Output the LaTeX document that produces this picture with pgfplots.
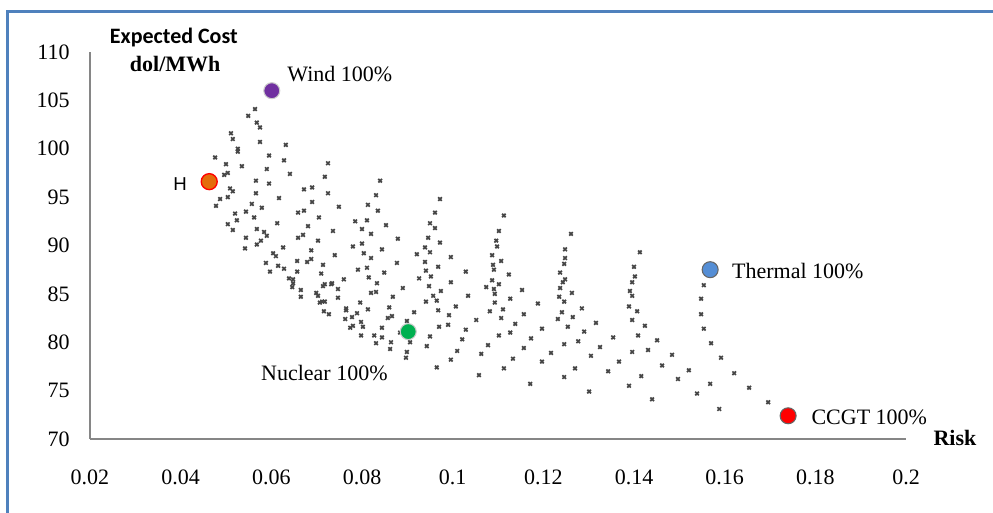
\documentclass[border=0pt]{standalone}
\usepackage{pgfplots}
\pgfplotsset{compat=1.18}
\usepackage{fontspec}
\setmainfont{Liberation Serif}
\newfontfamily\carlito{Carlito}
\newfontfamily\arialf{Liberation Sans}
\definecolor{framblue}{RGB}{79,129,189}
\definecolor{ptgray}{RGB}{70,70,70}
\definecolor{axgray}{RGB}{134,134,134}
\definecolor{windc}{RGB}{112,48,160}
\definecolor{hc}{RGB}{228,108,10}
\definecolor{nucc}{RGB}{0,176,80}
\definecolor{thc}{RGB}{85,142,213}
\definecolor{ccc}{RGB}{255,0,0}
\begin{document}
\begin{tikzpicture}
\useasboundingbox (-67.5pt,-55.5pt) rectangle (677.25pt,329.25pt);
\draw[framblue, line width=2.25pt] (-61.5pt,-60pt) -- (-61.5pt,320.25pt) -- (680pt,320.25pt);
\begin{axis}[
  scale only axis,
  width=612pt, height=290.25pt,
  xmin=0.02, xmax=0.2, ymin=70, ymax=110,
  axis lines=left,
  axis line style={-, axgray, line width=1.2pt},
  tick style={draw=none},
  xtick={0.02,0.04,0.06,0.08,0.1,0.12,0.14,0.16,0.18,0.2},
  ytick={70,75,80,85,90,95,100,105,110},
  scaled x ticks=false,
  /pgf/number format/assume math mode=true,
  xticklabel style={/pgf/number format/fixed, /pgf/number format/precision=2, inner sep=0pt, yshift=-21pt, font=\fontsize{16.5}{18}\selectfont},
  yticklabel style={inner sep=0pt, xshift=-13pt, font=\fontsize{16.5}{18}\selectfont},
  clip=false,
]
\addplot[only marks, mark=x, mark size=1.9pt, ptgray, line width=1.3pt] coordinates {
(0.0564,104.1) (0.0549,103.4) (0.0568,102.7) (0.0575,102.2) (0.0511,101.6) (0.0515,101.0)
(0.0575,100.7) (0.0632,100.4) (0.0526,100.0) (0.0526,99.7) (0.0476,99.1) (0.0595,99.3)
(0.0628,98.8) (0.0500,98.4) (0.0535,98.2) (0.0725,98.5) (0.0590,97.9) (0.0504,97.5)
(0.0496,97.3) (0.0641,97.4) (0.0566,96.7) (0.0595,96.4) (0.0718,97.1) (0.0840,96.7)
(0.0509,95.9) (0.0515,95.6) (0.0690,96.0) (0.0672,95.8) (0.0566,95.4) (0.0504,95.0)
(0.0725,95.4) (0.0487,94.8) (0.0478,94.1) (0.0617,94.9) (0.0831,95.2) (0.0690,94.5)
(0.0557,94.3) (0.0544,93.5) (0.0579,93.9) (0.0813,94.2) (0.0835,93.6) (0.0749,94.0)
(0.0659,93.4) (0.0672,93.6) (0.0520,93.3) (0.0524,92.6) (0.0562,92.9) (0.0705,92.9)
(0.0613,92.3) (0.0785,92.5) (0.0811,92.6) (0.0504,92.2) (0.0515,91.6) (0.0853,92.1)
(0.0568,91.7) (0.0584,91.4) (0.0590,91.0) (0.0681,92.0) (0.0736,91.5) (0.0800,91.7)
(0.0820,91.2) (0.0659,90.8) (0.0670,91.1) (0.0544,90.8) (0.0703,90.5) (0.0879,90.7)
(0.0568,90.1) (0.0542,89.7) (0.0577,90.5) (0.0626,89.8) (0.0780,89.9) (0.0800,90.2)
(0.0804,89.2) (0.0844,89.6) (0.0604,89.2) (0.0610,88.9) (0.0688,89.5) (0.0740,89.0)
(0.0588,88.2) (0.0597,87.3) (0.0615,87.9) (0.0628,87.6) (0.0657,88.4) (0.0657,87.3)
(0.0679,88.3) (0.0688,88.6) (0.0714,88.0) (0.0820,88.7) (0.0791,87.5) (0.0811,87.7)
(0.0849,87.2) (0.0877,88.2) (0.0710,87.1) (0.0639,86.6) (0.0648,86.5) (0.0648,86.1)
(0.0646,85.7) (0.0665,85.4) (0.0665,84.7) (0.0699,85.1) (0.0703,84.8) (0.0707,84.1)
(0.0712,84.2) (0.0718,84.2) (0.0714,85.8) (0.0718,86.0) (0.0732,86.0) (0.0734,86.1)
(0.0747,85.5) (0.0747,84.6) (0.0760,86.5) (0.0815,86.7) (0.0833,86.1) (0.0820,85.1)
(0.0831,85.2) (0.0796,84.1) (0.0813,83.4) (0.0860,83.6) (0.0857,82.5) (0.0866,82.7)
(0.0868,84.7) (0.0716,83.2) (0.0727,82.9) (0.0765,83.5) (0.0765,83.3) (0.0763,82.4)
(0.0778,82.6) (0.0789,83.0) (0.0774,81.5) (0.0780,81.7) (0.0798,82.1) (0.0802,81.6)
(0.0798,80.7) (0.0827,80.7) (0.0831,79.9) (0.0844,81.5) (0.0844,80.5) (0.0864,80.0)
(0.0862,79.3) (0.0884,81.0) (0.0972,94.8) (0.0961,93.4) (0.0950,92.3) (0.0961,91.8)
(0.0946,90.8) (0.0939,89.8) (0.0950,89.3) (0.0972,90.3) (0.0921,89.1) (0.0996,88.8)
(0.0939,88.3) (0.0968,87.8) (0.0952,86.8) (0.0941,87.4) (0.0926,86.6) (0.0996,86.2)
(0.0948,85.8) (0.0890,85.6) (0.0974,85.3) (0.0957,84.8) (0.0965,84.3) (0.0941,84.2)
(0.0968,83.3) (0.0992,82.8) (0.0970,81.6) (0.0990,81.8) (0.0915,83.1) (0.1007,83.7)
(0.0899,82.2) (0.0906,80.0) (0.0899,79.0) (0.0897,78.4) (0.0950,80.6) (0.0943,79.6)
(0.1029,81.3) (0.0965,77.4) (0.0996,78.2) (0.1010,79.1) (0.1021,80.3) (0.1029,87.3)
(0.1034,84.8) (0.1052,82.3) (0.1063,78.8) (0.1078,79.7) (0.1058,76.6) (0.1113,93.1)
(0.1102,91.5) (0.1096,90.5) (0.1098,89.9) (0.1087,89.0) (0.1107,88.4) (0.1089,88.0)
(0.1091,87.5) (0.1087,86.4) (0.1102,86.0) (0.1074,85.7) (0.1091,85.5) (0.1093,85.0)
(0.1124,87.0) (0.1093,84.1) (0.1082,83.2) (0.1111,83.4) (0.1107,82.5) (0.1127,84.5)
(0.1153,85.4) (0.1157,82.9) (0.1138,81.9) (0.1127,81.0) (0.1102,80.7) (0.1173,80.4)
(0.1157,79.4) (0.1133,78.3) (0.1113,77.3) (0.1197,81.4) (0.1188,84.0) (0.1197,78.0)
(0.1171,75.7) (0.1217,78.9) (0.1261,91.2) (0.1248,89.6) (0.1248,88.7) (0.1246,88.1)
(0.1237,87.2) (0.1248,86.5) (0.1243,86.2) (0.1237,85.6) (0.1235,84.7) (0.1246,84.2)
(0.1241,83.1) (0.1232,82.4) (0.1263,85.1) (0.1265,82.6) (0.1254,81.6) (0.1285,83.5)
(0.1277,80.1) (0.1246,79.8) (0.1290,81.1) (0.1316,82.0) (0.1325,79.5) (0.1305,78.6)
(0.1270,77.3) (0.1246,76.4) (0.1301,74.9) (0.1343,77.0) (0.1367,78.0) (0.1354,80.5)
(0.1389,75.5) (0.1416,76.5) (0.1396,79.0) (0.1431,79.2) (0.1451,80.2) (0.1462,77.6)
(0.1484,78.7) (0.1497,76.2) (0.1440,74.1) (0.1413,89.3) (0.1400,87.8) (0.1402,86.8)
(0.1396,86.2) (0.1391,85.3) (0.1396,84.8) (0.1389,83.7) (0.1407,83.2) (0.1396,82.3)
(0.1424,81.7) (0.1409,80.7) (0.1554,85.9) (0.1548,84.5) (0.1548,82.9) (0.1554,81.4)
(0.1570,79.9) (0.1592,78.4) (0.1621,76.8) (0.1654,75.3) (0.1696,73.8) (0.1521,77.1)
(0.1539,74.7) (0.1568,75.7) (0.1588,73.1)
};
\addplot[only marks, mark=*, mark size=6pt, mark options={fill=windc, draw=gray!40, line width=0.8pt}] coordinates {(0.0601,106.0)};
\addplot[only marks, mark=*, mark size=6pt, mark options={fill=hc, draw=red, line width=1pt}] coordinates {(0.0463,96.6)};
\addplot[only marks, mark=*, mark size=6pt, mark options={fill=nucc, draw=gray!40, line width=0.8pt}] coordinates {(0.0902,81.1)};
\addplot[only marks, mark=*, mark size=6pt, mark options={fill=thc, draw=gray!80!black, line width=0.8pt}] coordinates {(0.1568,87.5)};
\addplot[only marks, mark=*, mark size=6pt, mark options={fill=ccc, draw=gray!80!black, line width=0.8pt}] coordinates {(0.1740,72.4)};
\node[font={\carlito\bfseries\fontsize{16.5}{18}\selectfont}] at (axis cs:0.0385,111.5) {Expected Cost};
\node[font={\bfseries\fontsize{16.5}{18}\selectfont}] at (axis cs:0.0388,108.76) {dol/MWh};
\node[font={\bfseries\fontsize{16.5}{18}\selectfont}] at (axis cs:0.2108,70.1) {Risk};
\node[anchor=west, inner sep=0pt, font=\fontsize{16.5}{18}\selectfont] at (axis cs:0.0635,107.7) {Wind 100\%};
\node[font={\arialf\fontsize{14}{16}\selectfont}] at (axis cs:0.0399,96.3) {H};
\node[anchor=west, inner sep=0pt, font=\fontsize{16.5}{18}\selectfont] at (axis cs:0.0577,76.8) {Nuclear 100\%};
\node[anchor=west, inner sep=0pt, font=\fontsize{16.5}{18}\selectfont] at (axis cs:0.1616,87.4) {Thermal 100\%};
\node[anchor=west, inner sep=0pt, font=\fontsize{16.5}{18}\selectfont] at (axis cs:0.1791,72.2) {CCGT 100\%};
\end{axis}
\end{tikzpicture}
\end{document}
